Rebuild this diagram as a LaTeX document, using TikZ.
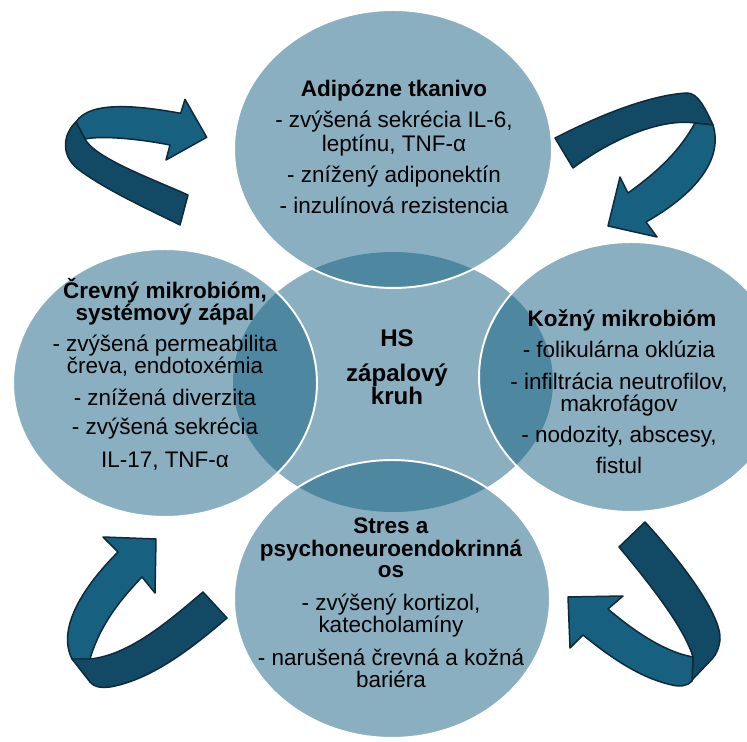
\documentclass[tikz,border=0pt]{standalone}
\usepackage{fontspec}
\setmainfont{Liberation Sans}
\definecolor{lightc}{HTML}{89AFC1}
\definecolor{darkc}{HTML}{4E87A0}
\definecolor{arrl}{HTML}{17607F}
\definecolor{arrd}{HTML}{124A65}
\definecolor{arro}{HTML}{0C2A3A}
\def\eTop{(393,149) ellipse [x radius=3.18cm, y radius=2.78cm]}
\def\eLeft{(165,383) ellipse [x radius=3.04cm, y radius=2.68cm]}
\def\eRight{(631,377) ellipse [x radius=3.04cm, y radius=2.70cm]}
\def\eBot{(392,599) ellipse [x radius=3.16cm, y radius=2.78cm]}
\def\eCen{(393,382) ellipse [x radius=3.20cm, y radius=2.60cm]}
\begin{document}
\begin{tikzpicture}[x=0.02cm, y=-0.02cm,
  txt/.style={anchor=base, inner sep=0pt, font=\fontsize{12.8}{13}\selectfont, text=black},
  ttl/.style={txt, font=\fontsize{12.8}{13}\selectfont\bfseries},
  ctr/.style={txt, font=\fontsize{13.7}{14}\selectfont\bfseries},
  arrlight/.style={fill=arrl, draw=arro, line width=0.85pt, line join=round},
  arrdark/.style={fill=arrd, draw=arro, line width=0.85pt, line join=round}]
\useasboundingbox (0,0) rectangle (747,742);
\clip (0,0) rectangle (747,742);
% circles
\fill[lightc] \eCen;
\fill[lightc] \eTop;
\fill[lightc] \eLeft;
\fill[lightc] \eRight;
\fill[lightc] \eBot;
\begin{scope}\clip \eCen; \fill[darkc] \eTop; \end{scope}
\begin{scope}\clip \eCen; \fill[darkc] \eLeft; \end{scope}
\begin{scope}\clip \eCen; \fill[darkc] \eRight; \end{scope}
\begin{scope}\clip \eCen; \fill[darkc] \eBot; \end{scope}
\draw[white, line width=1.1pt] \eTop;
\draw[white, line width=1.1pt] \eLeft;
\draw[white, line width=1.1pt] \eRight;
\draw[white, line width=1.1pt] \eBot;
% arrow top-left
\draw[arrlight] (206.7,137.3) -- (185,99.3) -- (180.7,113.3) .. controls (140,106) and (90,100) .. (76,122) -- (85,139) .. controls (105,135) and (145,140) .. (170,145) -- (166,160) -- cycle;
\draw[arrdark] (76,122) .. controls (62,135) and (60,158) .. (82,172) .. controls (110,192) and (150,210) .. (180,225) -- (188,195) .. controls (150,178) and (95,158) .. (85,139) -- cycle;
% arrow top-right
\draw[arrdark] (555,138) .. controls (600,115) and (650,95) .. (687,93) .. controls (698,93) and (705,108) .. (713,125) -- (695,123) .. controls (660,118) and (610,140) .. (573,168) -- cycle;
\draw[arrlight] (695,123) .. controls (680,150) and (660,170) .. (628,193) -- (620,177) -- (608,226) -- (657,237) -- (646,222) .. controls (685,200) and (725,165) .. (713,125) -- cycle;
% arrow bottom-left
\draw[arrlight] (90,659) .. controls (100,625) and (120,600) .. (142,577) -- (155,593) -- (156,539) -- (103,537) -- (118,552) .. controls (90,580) and (55,625) .. (72,659) -- cycle;
\draw[arrdark] (72,659) -- (90,682) .. controls (94,687) and (100,688) .. (110,687) .. controls (150,680) and (190,650) .. (227,618) -- (203,592) .. controls (170,620) and (130,655) .. (90,659) -- cycle;
% arrow bottom-right
\draw[arrdark] (619,547) -- (645,522) .. controls (680,560) and (722,615) .. (720,640) .. controls (719,648) and (716,655) .. (712,659) -- (692,680) -- (693,657) .. controls (685,630) and (655,590) .. (619,547) -- cycle;
\draw[arrlight] (693,657) -- (692,681) .. controls (688,686) and (680,687) .. (672,685) .. controls (640,678) and (610,657) .. (583,635) -- (570,648) -- (568,597) -- (623,596) -- (608,609) .. controls (635,632) and (665,652) .. (693,657) -- cycle;
% top text
\node[ttl] (t1) at (394,97) {Adipózne tkanivo};
\node[txt] (t2) at (394,128) {- zvýšená sekrécia IL-6,};
\node[txt] (t3) at (394,152) {leptínu, TNF-α};
\node[txt] (t4) at (394,183) {- znížený adiponektín};
\node[txt] (t5) at (394,214) {- inzulínová rezistencia};
% left text
\node[ttl] (l1) at (165,299) {Črevný mikrobióm,};
\node[ttl] (l2) at (165,321) {systémový zápal};
\node[txt] (l3) at (165,352) {- zvýšená permeabilita};
\node[txt] (l4) at (165,374) {čreva, endotoxémia};
\node[txt] (l5) at (165,406) {- znížená diverzita};
\node[txt] (l6) at (165,435) {- zvýšená sekrécia};
\node[txt] (l7) at (165,468) {IL-17, TNF-α};
% right text
\node[ttl] (r1) at (622,327) {Kožný mikrobióm};
\node[txt] (r2) at (619,358) {- folikulárna oklúzia};
\node[txt] (r3) at (619,390) {- infiltrácia neutrofilov,};
\node[txt] (r4) at (619,412) {makrofágov};
\node[txt] (r5) at (619,443) {- nodozity, abscesy,};
\node[txt] (r6) at (619,474) {fistul};
% bottom text
\node[ttl] (b1) at (391,534) {Stres a};
\node[ttl] (b2) at (391,557) {psychoneuroendokrinná};
\node[ttl] (b3) at (391,578) {os};
\node[txt] (b4) at (391,611) {- zvýšený kortizol,};
\node[txt] (b5) at (391,633) {katecholamíny};
\node[txt] (b6) at (391,665) {- narušená črevná a kožná};
\node[txt] (b7) at (391,687) {bariéra};
% center text
\node[ctr] (c1) at (397,347) {HS};
\node[ctr] (c2) at (397,382) {zápalový};
\node[ctr] (c3) at (397,405) {kruh};
\end{tikzpicture}
\end{document}
